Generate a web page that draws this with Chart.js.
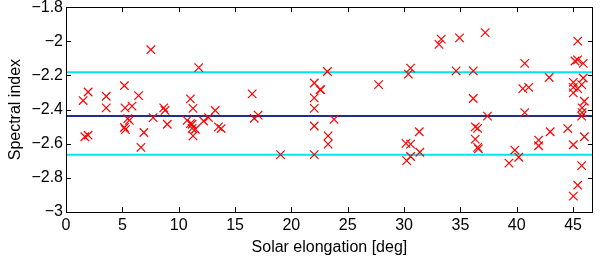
<!DOCTYPE html>
<html>
<head>
<meta charset="utf-8">
<script src="https://cdn.jsdelivr.net/npm/chart.js@4"></script>
<style>
html,body{margin:0;padding:0;background:#fff;}
#wrap{width:600px;height:259px;position:relative;}
</style>
</head>
<body>
<div id="wrap"><canvas id="c" width="600" height="259"></canvas></div>
<script>
// Data
const elongation = [
  1.52, 1.96, 1.67, 1.96, 3.57, 3.57, 5.18, 5.24, 5.86, 5.48, 5.62, 5.18, 5.27,
  6.44, 6.91, 6.65, 7.53, 7.73, 8.67, 8.79, 8.99, 11.04, 11.27, 10.75, 11.19,
  11.19, 11.27, 11.78, 11.04, 11.48, 12.21, 12.65, 13.24, 13.53, 13.77,
  16.52, 16.70, 17.05, 19.04, 22.03, 22.55, 22.03, 22.03, 22.03, 22.03,
  23.20, 22.61, 23.79, 23.26, 23.26, 27.74, 30.58, 30.38, 30.17, 30.58,
  30.23, 30.58, 31.35, 31.40, 33.10, 33.30, 34.92, 34.62, 36.14, 37.20,
  36.14, 37.40, 36.32, 36.53, 36.32, 36.53, 36.60, 39.31, 39.83, 40.18,
  40.71, 40.54, 41.06, 40.71, 41.94, 41.94, 42.88, 42.97, 44.53, 45.41,
  45.17, 45.40, 45.90, 45.02, 45.02, 45.02, 45.41, 45.90, 45.76, 46.00,
  45.80, 45.80, 45.76, 45.02, 46.00, 45.76, 45.41, 45.02
];
const spectralIndex = [
  -2.347, -2.297, -2.559, -2.550, -2.322, -2.390, -2.260, -2.390, -2.380, -2.453, -2.463, -2.505, -2.517,
  -2.318, -2.534, -2.621, -2.049, -2.447, -2.390, -2.405, -2.486, -2.337, -2.393, -2.463, -2.486,
  -2.510, -2.554, -2.154, -2.482, -2.515, -2.467, -2.447, -2.405, -2.501, -2.511,
  -2.308, -2.451, -2.432, -2.664, -2.244, -2.283, -2.331, -2.393, -2.496, -2.664,
  -2.177, -2.283, -2.457, -2.554, -2.602, -2.254, -2.157, -2.192, -2.598, -2.602,
  -2.699, -2.675, -2.530, -2.650, -2.018, -1.987, -1.980, -2.173, -2.173, -1.949,
  -2.335, -2.438, -2.501, -2.510, -2.573, -2.621, -2.630, -2.714, -2.637, -2.679,
  -2.129, -2.277, -2.270, -2.418, -2.579, -2.612, -2.212, -2.530, -2.511, -1.999,
  -2.115, -2.109, -2.129, -2.240, -2.270, -2.302, -2.277, -2.215, -2.254, -2.351,
  -2.390, -2.418, -2.438, -2.606, -2.559, -2.728, -2.843, -2.907
];
const meanIndex = -2.438;
const upperBand = -2.181;
const lowerBand = -2.664;
const xRange = [0, 46.75];
const yRange = [-3, -1.8];
const xTicks = [0, 5, 10, 15, 20, 25, 30, 35, 40, 45];
const yTicks = [-3, -2.8, -2.6, -2.4, -2.2, -2, -1.8];

const points = elongation.map((x, i) => ({x: x, y: spectralIndex[i]}));
const hline = v => [{x: xRange[0], y: v}, {x: xRange[1], y: v}];
const fmt = v => {
  const r = Math.round(v * 10) / 10;
  const s = Math.abs(r).toString();
  return (r < 0 ? '\u2212' : '') + s;
};

const FONT = {family: '"Liberation Sans", Arial, Helvetica, sans-serif', size: 16};

const boxPlugin = {
  id: 'box',
  afterDraw(chart) {
    const {ctx, chartArea: a, scales} = chart;
    ctx.save();
    ctx.strokeStyle = '#000';
    ctx.lineWidth = 1;
    ctx.beginPath();
    const L = 5;
    xTicks.forEach(t => {
      const px = Math.round(scales.x.getPixelForValue(t)) + 0.5;
      ctx.moveTo(px, a.bottom); ctx.lineTo(px, a.bottom - L);
      ctx.moveTo(px, a.top); ctx.lineTo(px, a.top + L);
    });
    yTicks.forEach(t => {
      const py = Math.round(scales.y.getPixelForValue(t)) + 0.5;
      ctx.moveTo(a.left, py); ctx.lineTo(a.left + L, py);
      ctx.moveTo(a.right, py); ctx.lineTo(a.right - L, py);
    });
    ctx.stroke();
    ctx.strokeRect(Math.round(a.left) + 0.5, Math.round(a.top) + 0.5,
                   Math.round(a.right - a.left) - 1, Math.round(a.bottom - a.top));
    ctx.restore();
  }
};

new Chart(document.getElementById('c'), {
  type: 'scatter',
  data: {
    datasets: [
      {type: 'line', data: hline(upperBand), borderColor: '#00e5ee', backgroundColor: '#00e5ee', borderWidth: 2, pointRadius: 0, order: 2},
      {type: 'line', data: hline(lowerBand), borderColor: '#00e5ee', backgroundColor: '#00e5ee', borderWidth: 2, pointRadius: 0, order: 2},
      {type: 'line', data: hline(meanIndex), borderColor: '#1f2e8a', backgroundColor: '#1f2e8a', borderWidth: 2, pointRadius: 0, order: 2},
      {type: 'scatter', data: points, borderColor: '#ff0000', backgroundColor: '#ff0000',
       pointStyle: 'crossRot', pointRadius: 6, pointBorderColor: '#ff0000',
       pointBackgroundColor: '#ff0000', pointBorderWidth: 1.2,
       pointHoverBorderColor: '#ff0000', pointHoverRadius: 6, order: 1}
    ]
  },
  options: {
    responsive: false,
    animation: false,
    events: [],
    devicePixelRatio: 1,
    layout: {padding: {top: 5, right: 1, left: 0, bottom: 0}},
    plugins: {legend: {display: false}, tooltip: {enabled: false}},
    scales: {
      x: {
        type: 'linear', min: xRange[0], max: xRange[1],
        afterBuildTicks: s => { s.ticks = xTicks.map(v => ({value: v})); },
        afterFit: s => { s.height = 47; s.paddingLeft = 0; s.paddingRight = 0; },
        grid: {display: false, drawTicks: false},
        border: {display: false},
        ticks: {color: '#000', font: FONT, padding: 4, maxRotation: 0, callback: v => fmt(v)},
        title: {display: true, text: 'Solar elongation [deg]', color: '#000', font: FONT, padding: {top: 0, bottom: 2}}
      },
      y: {
        type: 'linear', min: yRange[0], max: yRange[1],
        afterBuildTicks: s => { s.ticks = yTicks.map(v => ({value: v})); },
        afterFit: s => { s.width = 66; s.paddingTop = 0; s.paddingBottom = 0; },
        grid: {display: false, drawTicks: false},
        border: {display: false},
        ticks: {color: '#000', font: FONT, padding: 3, callback: v => fmt(v)},
        title: {display: true, text: 'Spectral index', color: '#000', font: FONT, padding: {top: 6, bottom: 0}}
      }
    }
  },
  plugins: [boxPlugin]
});
</script>
</body>
</html>
